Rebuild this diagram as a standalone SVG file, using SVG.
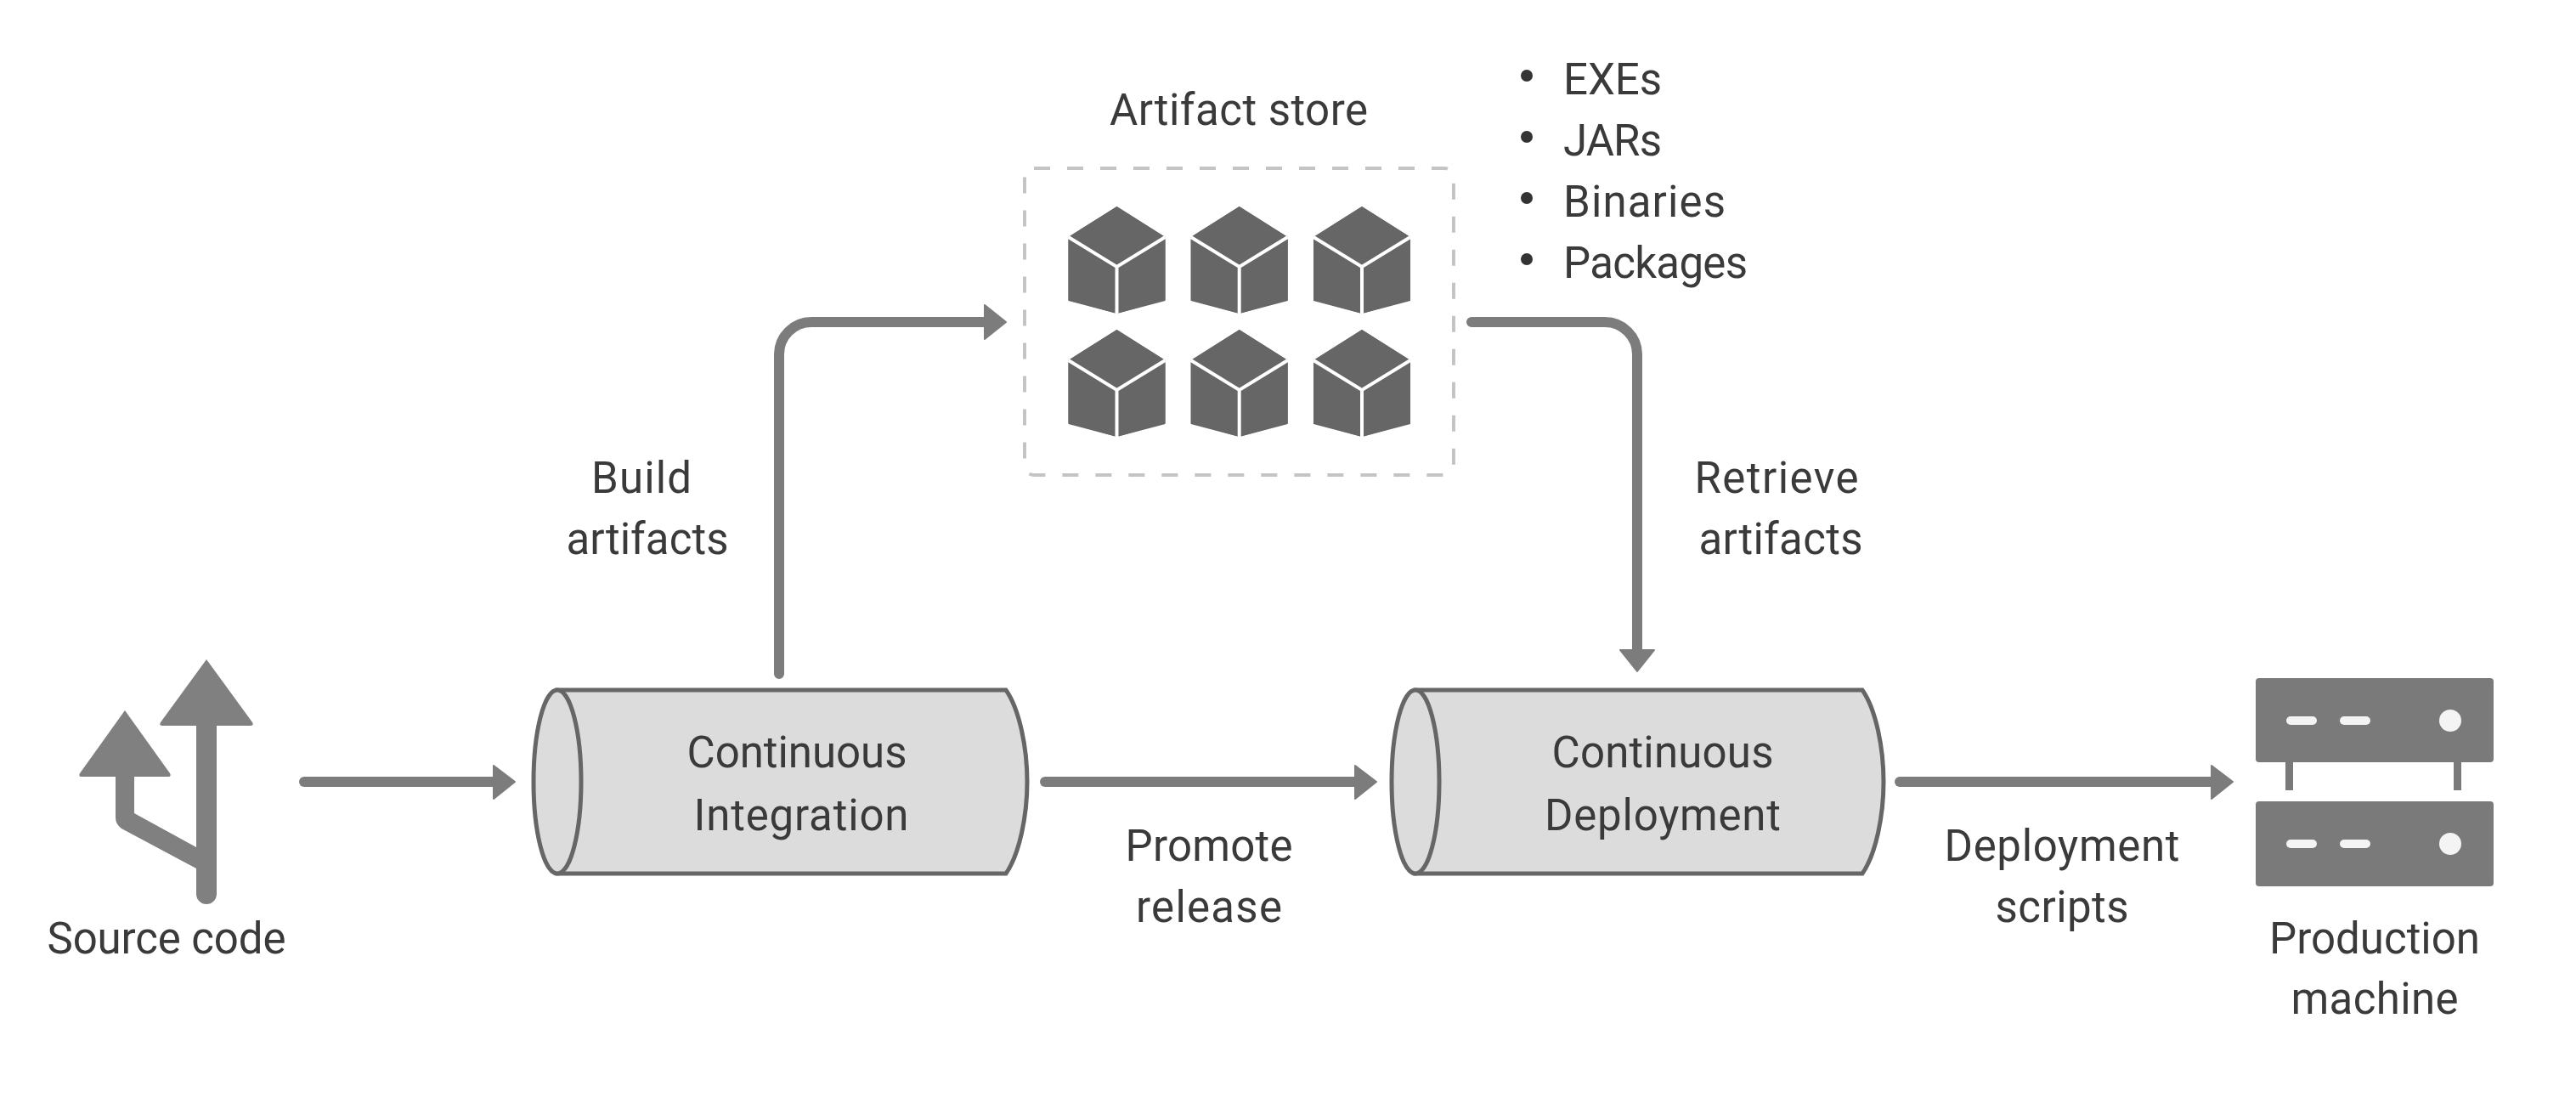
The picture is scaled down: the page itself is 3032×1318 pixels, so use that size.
<svg xmlns="http://www.w3.org/2000/svg" xmlns:xlink="http://www.w3.org/1999/xlink" width="3032" height="1318" viewBox="0 0 3032 1318">
<style>
text{font-family:Roboto,"Liberation Sans",sans-serif;font-size:51px;fill:#3a3a3a;text-anchor:middle}
.l{text-anchor:start}
.conn{fill:none;stroke:#7c7c7c;stroke-width:12;stroke-linecap:round}
.head{fill:#7c7c7c;stroke:#7c7c7c;stroke-width:2;stroke-linejoin:round}
.cyl{fill:#dcdcdc;stroke:#666;stroke-width:5}
.icon{fill:#808080}
.srv{fill:#7a7a7a}
.w{fill:#f4f4f4}
</style>
<defs>
<g id="cube"><path d="M0,-63L57,-27V48L0,63L0,63L-57,48V-27Z" fill="#666"/><path d="M-57,-27L0,-63L57,-27V47L0,63L-57,47Z" fill="#666"/><path d="M-57,-27L0,8L57,-27M0,8V63" fill="none" stroke="#fff" stroke-width="4"/></g>
</defs>
<rect width="3032" height="1318" fill="#fff"/>
<g id="connectors">
<path class="conn" d="M358,920H585"/><path class="head" d="M581,901L606,920L581,940Z"/>
<path class="conn" d="M917,793V417A38,38 0 0 1 955,379H1165"/><path class="head" d="M1159,359L1184,379L1159,399Z"/>
<path class="conn" d="M1732,379H1889A38,38 0 0 1 1927,417V770"/><path class="head" d="M1907,765L1927,790L1947,765Z"/>
<path class="conn" d="M1230,920H1600"/><path class="head" d="M1595,901L1620,920L1595,940Z"/>
<path class="conn" d="M2236,920H2608"/><path class="head" d="M2603,901L2628,920L2603,940Z"/>
</g>
<g id="source-code">
<path class="icon" d="M243,776L297,850Q299,854 295,854H191Q187,854 189,850Z"/>
<path class="icon" d="M147,836L200,910Q202,914 198,914H96Q92,914 94,910Z"/>
<path class="icon" d="M136,914H158V957L231,997V1052A12,12 0 0 0 255,1052V854H231V1022L143,975Q136,970 136,962Z"/>
<text x="196" y="1122" textLength="281">Source code</text>
</g>
<g id="continuous-integration">
<path class="cyl" d="M656,812H1184C1200,835 1209,880 1209,920C1209,960 1200,1005 1184,1028H656Z"/>
<ellipse class="cyl" cx="656" cy="920" rx="28" ry="108"/>
<text x="938" y="903" textLength="259">Continuous</text>
<text x="943" y="977" textLength="253">Integration</text>
</g>
<g id="continuous-deployment">
<path class="cyl" d="M1666,812H2192C2208,835 2217,880 2217,920C2217,960 2208,1005 2192,1028H1666Z"/>
<ellipse class="cyl" cx="1666" cy="920" rx="28" ry="108"/>
<text x="1957" y="903" textLength="261">Continuous</text>
<text x="1957" y="977" textLength="278">Deployment</text>
</g>
<g id="artifact-store">
<text x="1458" y="147" textLength="304">Artifact store</text>
<rect x="1206" y="198" width="505" height="361" rx="11" fill="none" stroke="#c4c4c4" stroke-width="4" stroke-dasharray="19 20"/>
<use xlink:href="#cube" href="#cube" x="1314.5" y="306"/>
<use xlink:href="#cube" href="#cube" x="1458.7" y="306"/>
<use xlink:href="#cube" href="#cube" x="1603" y="306"/>
<use xlink:href="#cube" href="#cube" x="1314.5" y="451"/>
<use xlink:href="#cube" href="#cube" x="1458.7" y="451"/>
<use xlink:href="#cube" href="#cube" x="1603" y="451"/>
</g>
<g id="artifact-list">
<circle cx="1797" cy="89" r="7" fill="#333"/><text class="l" x="1840" y="111" textLength="116">EXEs</text>
<circle cx="1797" cy="161" r="7" fill="#333"/><text class="l" x="1840" y="183" textLength="116">JARs</text>
<circle cx="1797" cy="233" r="7" fill="#333"/><text class="l" x="1840" y="255" textLength="191">Binaries</text>
<circle cx="1797" cy="305" r="7" fill="#333"/><text class="l" x="1840" y="327" textLength="217">Packages</text>
</g>
<g id="label-build"><text x="755" y="580" textLength="118">Build</text><text x="762" y="652" textLength="191">artifacts</text></g>
<g id="label-retrieve"><text x="2091" y="580" textLength="193">Retrieve</text><text x="2096" y="652" textLength="193">artifacts</text></g>
<g id="label-promote"><text x="1423" y="1013" textLength="197">Promote</text><text x="1423" y="1085" textLength="172">release</text></g>
<g id="label-scripts"><text x="2427" y="1013" textLength="277">Deployment</text><text x="2427" y="1085" textLength="157">scripts</text></g>
<g id="production-machine">
<rect class="srv" x="2655" y="798" width="280" height="99" rx="4"/>
<rect class="srv" x="2655" y="943" width="280" height="100" rx="4"/>
<rect class="srv" x="2690" y="897" width="9" height="33"/>
<rect class="srv" x="2888" y="897" width="9" height="33"/>
<rect class="w" x="2691" y="843" width="36" height="10" rx="5"/><rect class="w" x="2754" y="843" width="36" height="10" rx="5"/><circle class="w" cx="2884" cy="848" r="13"/>
<rect class="w" x="2691" y="988" width="36" height="10" rx="5"/><rect class="w" x="2754" y="988" width="36" height="10" rx="5"/><circle class="w" cx="2884" cy="993" r="13"/>
<text x="2795" y="1122" textLength="248">Production</text><text x="2795" y="1193" textLength="197">machine</text>
</g>
</svg>
